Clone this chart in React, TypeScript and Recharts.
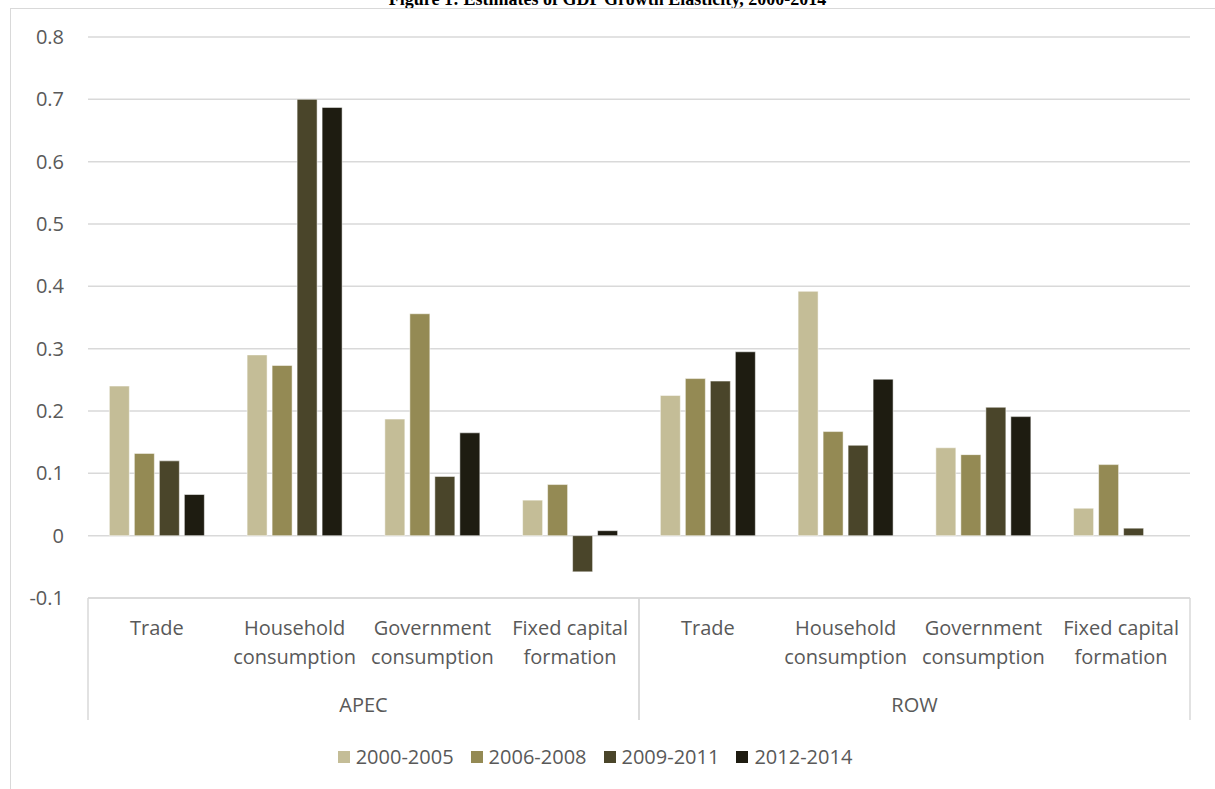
import React from "react";
import {
  BarChart,
  Bar,
  XAxis,
  YAxis,
  CartesianGrid,
  Legend,
} from "recharts";

// categories (two-level axis: region / component)
const groups = ["APEC", "ROW"];
const components = [
  "Trade",
  "Household consumption",
  "Government consumption",
  "Fixed capital formation",
];

// series values, per region in component order
const p2000_2005 = [0.24, 0.29, 0.187, 0.057, 0.225, 0.392, 0.141, 0.044];
const p2006_2008 = [0.132, 0.273, 0.356, 0.082, 0.252, 0.167, 0.13, 0.114];
const p2009_2011 = [0.12, 0.7, 0.095, -0.058, 0.248, 0.145, 0.206, 0.012];
const p2012_2014 = [0.066, 0.687, 0.165, 0.008, 0.295, 0.251, 0.191, 0];

const seriesNames = ["2000-2005", "2006-2008", "2009-2011", "2012-2014"];
const seriesColors = ["#C4BD97", "#948A54", "#4A452A", "#1E1C11"];
const seriesValues = [p2000_2005, p2006_2008, p2009_2011, p2012_2014];

const yTicks = [-0.1, 0, 0.1, 0.2, 0.3, 0.4, 0.5, 0.6, 0.7, 0.8];

const chartData = groups.flatMap((group, g) =>
  components.map((comp, c) => {
    const i = g * components.length + c;
    const row: Record<string, string | number> = {
      key: `${group}|${comp}`,
      group,
      comp,
    };
    seriesNames.forEach((s, k) => {
      row[s] = seriesValues[k][i];
    });
    return row;
  })
);

const W = 1215;
const H = 789;
const MARGIN = { top: 37, right: 25, left: 0, bottom: 21 };
const Y_W = 88;
const AX1_H = 90;
const AX2_H = 40;
const PLOT_W = W - MARGIN.left - MARGIN.right - Y_W;
const FONT = "'Open Sans', sans-serif";
const FS = 20;
const TXT = "#595959";
const GRID = "#D9D9D9";

// splits component names the way the original wraps them
const labelLines: Record<string, string[]> = {
  Trade: ["Trade"],
  "Household consumption": ["Household", "consumption"],
  "Government consumption": ["Government", "consumption"],
  "Fixed capital formation": ["Fixed capital", "formation"],
};

function CompTick(props: any) {
  const { x, y, payload } = props;
  const comp = String(payload.value).split("|")[1];
  const lines = labelLines[comp] || [comp];
  return (
    <g>
      {lines.map((ln, i) => (
        <text
          key={i}
          x={x}
          y={y + 37 + i * 29}
          textAnchor="middle"
          fill={TXT}
          fontSize={FS}
          fontFamily={FONT}
        >
          {ln}
        </text>
      ))}
    </g>
  );
}

function GroupTick(props: any) {
  const { x, y, payload } = props;
  const half = PLOT_W / groups.length / 2;
  return (
    <g>
      <line x1={x - half} x2={x - half} y1={y - AX1_H} y2={y + 32} stroke={GRID} strokeWidth={1.5} />
      <line x1={x + half} x2={x + half} y1={y - AX1_H} y2={y + 32} stroke={GRID} strokeWidth={1.5} />
      <text x={x} y={y + 24} textAnchor="middle" fill={TXT} fontSize={FS} fontFamily={FONT}>
        {payload.value}
      </text>
    </g>
  );
}

function LegendContent() {
  return (
    <div
      style={{
        display: "flex",
        justifyContent: "center",
        marginTop: 17,
        fontFamily: FONT,
        fontSize: FS,
        color: TXT,
        lineHeight: "24px",
      }}
    >
      {seriesNames.map((s, i) => (
        <div
          key={s}
          style={{
            display: "flex",
            alignItems: "center",
            marginRight: i < seriesNames.length - 1 ? 17 : 0,
          }}
        >
          <span
            style={{
              width: 12,
              height: 12,
              background: seriesColors[i],
              display: "inline-block",
              marginRight: 6,
            }}
          />
          {s}
        </div>
      ))}
    </div>
  );
}

export default function App() {
  return (
    <div
      style={{
        position: "absolute",
        left: 0,
        top: 0,
        width: W,
        height: H,
        overflow: "hidden",
        background: "#fff",
      }}
    >
      <div
        style={{
          position: "absolute",
          top: -11,
          left: 0,
          width: W,
          textAlign: "center",
          fontFamily: "'Liberation Serif', serif",
          fontWeight: "bold",
          fontSize: 18,
          lineHeight: "20px",
        }}
      >
        Figure 1: Estimates of GDP Growth Elasticity, 2000-2014
      </div>
      <div
        style={{
          position: "absolute",
          left: 10,
          top: 8,
          width: W,
          height: H,
          border: `1px solid ${GRID}`,
        }}
      />
      <div style={{ position: "absolute", left: 0, top: 0 }}>
        <BarChart
          width={W}
          height={H}
          data={chartData}
          margin={MARGIN}
          barCategoryGap="15.5%"
          barGap={5}
        >
          <CartesianGrid vertical={false} stroke={GRID} strokeWidth={1.5} />
          <YAxis
            width={Y_W}
            domain={[-0.1, 0.8]}
            ticks={yTicks}
            axisLine={false}
            tickLine={false}
            tickSize={0}
            tickMargin={24}
            tick={{ fill: TXT, fontSize: FS, fontFamily: FONT }}
          />
          <XAxis
            dataKey="key"
            height={AX1_H}
            interval={0}
            axisLine={{ stroke: GRID, strokeWidth: 1.5 }}
            tickLine={false}
            tickSize={0}
            tickMargin={0}
            tick={<CompTick />}
          />
          <XAxis
            xAxisId="group"
            dataKey="group"
            allowDuplicatedCategory={false}
            height={AX2_H}
            interval={0}
            axisLine={false}
            tickLine={false}
            tickSize={0}
            tickMargin={0}
            tick={<GroupTick />}
          />
          <Legend
            verticalAlign="bottom"
            content={<LegendContent />}
            wrapperStyle={{ height: 40 }}
          />
          {seriesNames.map((s, i) => (
            <Bar
              key={s}
              dataKey={s}
              fill={seriesColors[i]}
              stroke="#ffffff"
              strokeOpacity={0.5}
              strokeWidth={1}
              isAnimationActive={false}
            />
          ))}
        </BarChart>
      </div>
    </div>
  );
}
